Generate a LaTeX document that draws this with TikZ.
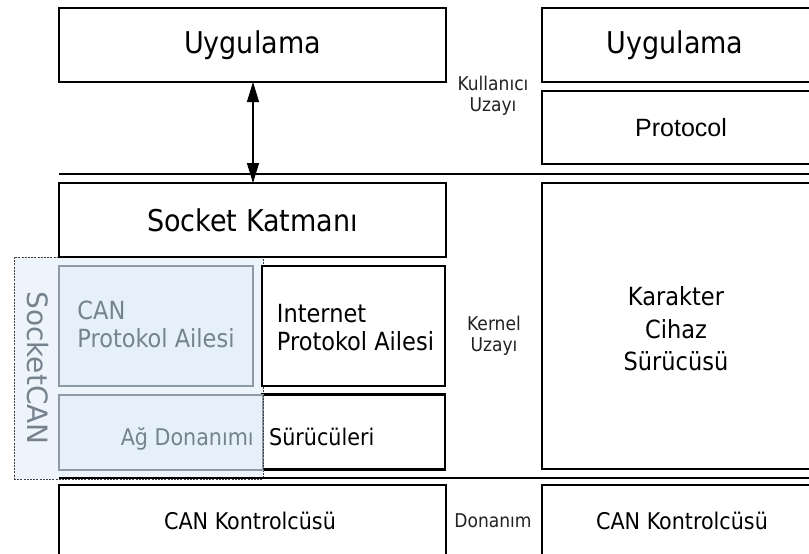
\documentclass[tikz,border=0pt]{standalone}
\usepackage{fontspec}
\setmainfont{DejaVu Sans Condensed}
\newfontfamily\protofont{Liberation Sans}
\newfontfamily\scanfont{DejaVu Sans}
\usetikzlibrary{arrows.meta}
\definecolor{scanfill}{HTML}{EEF4FB}
\definecolor{scanbox}{HTML}{E6F0FB}
\definecolor{scanedge}{HTML}{8E9AA6}
\definecolor{scantext}{HTML}{76828E}
\definecolor{lbl}{HTML}{222222}
\tikzset{
  layer/.style={draw=black, line width=2.2pt, fill=white},
  canlayer/.style={draw=scanedge, line width=2pt, fill=scanbox},
  sep/.style={draw=black, line width=1.2pt},
  zone/.style={font=\fontsize{19}{21.5}\selectfont, text=lbl, align=center, inner sep=0pt},
  big/.style={font=\fontsize{30}{36}\selectfont, inner sep=0pt},
  mid/.style={font=\fontsize{23}{28}\selectfont, inner sep=0pt},
  fam/.style={font=\fontsize{25}{28}\selectfont, inner sep=0pt, align=left},
  box/.style={inner sep=0pt, outer sep=0pt, anchor=north west}
}
\begin{document}
\begin{tikzpicture}[x=1pt,y=-1pt]
\useasboundingbox[fill=white] (0,0) rectangle (809,554);

% SocketCAN frame
\node[box, draw=black!75, dash pattern=on 2pt off 1.2pt, line width=0.9pt, fill=scanfill,
      minimum width=249pt, minimum height=222pt] (scan) at (14,257) {};

% separators between user, kernel and hardware space
\coordinate (s1l) at (59,174);  \coordinate (s1r) at (812,174);
\coordinate (s2l) at (59,478);  \coordinate (s2r) at (812,478);
\draw[sep] (s1l) -- (s1r);
\draw[sep] (s2l) -- (s2r);

% left stack
\node[box, layer, minimum width=387pt, minimum height=74pt] (app) at (59,8) {};
\node[big] at (app.center) {Uygulama};
\node[box, layer, minimum width=387pt, minimum height=74pt] (sock) at (59,183) {};
\node[big] at (sock.center) {Socket Katmanı};

\node[box, canlayer, minimum width=194pt, minimum height=120pt] (canpf) at (59,266) {};
\node[fam, text=scantext] at ([yshift=2pt]canpf.center) {CAN\\Protokol Ailesi};

\node[box, layer, minimum width=183pt, minimum height=120pt] (inet) at (262,266) {};
\node[fam] at ([xshift=2pt,yshift=-2pt]inet.center) {Internet\\Protokol Ailesi};

\node[box, layer, minimum width=183pt, minimum height=75pt] (drv) at (262,394.5) {};
\node[box, canlayer, minimum width=204pt, minimum height=75pt] (netdev) at (59,394.5) {};
\draw[black!75, dash pattern=on 2pt off 1.2pt, line width=0.9pt] (netdev.north east) -- (netdev.south east);
\node[mid, text=scantext, anchor=base east] (agd) at (254,445) {Ağ Donanımı};
\node[mid, anchor=base west] (surucu) at (269,445) {Sürücüleri};

\node[font=\scanfont\fontsize{28}{30}\selectfont, text=scantext, rotate=-90, inner sep=0pt] (scanlbl) at (38,368) {SocketCAN};

\node[box, layer, minimum width=387pt, minimum height=80pt] (ctl1) at (59,485) {};
\node[font=\fontsize{23}{28}\selectfont, inner sep=0pt] at (250,521) {CAN Kontrolcüsü};

% right stack
\node[box, layer, minimum width=272pt, minimum height=74pt] (app2) at (542,8) {};
\node[big] at ([xshift=-3pt]app2.center) {Uygulama};
\node[box, layer, minimum width=272pt, minimum height=73pt] (proto) at (542,91) {};
\node[font=\protofont\fontsize{25}{28}\selectfont, inner sep=0pt] at ([xshift=3pt]proto.center) {Protocol};
\node[box, layer, minimum width=272pt, minimum height=286pt] (chr) at (542,183) {};
\node[font=\fontsize{25}{32.5}\selectfont, align=center, inner sep=0pt] at ([xshift=-2pt,yshift=-3pt]chr.center) {Karakter\\Cihaz\\Sürücüsü};
\node[box, layer, minimum width=272pt, minimum height=80pt] (ctl2) at (542,485) {};
\node[font=\fontsize{23}{28}\selectfont, inner sep=0pt] at (682,521) {CAN Kontrolcüsü};

% space labels
\node[zone] (ku) at (493,96) {Kullanıcı\\Uzayı};
\node[zone] (kr) at (494,336) {Kernel\\Uzayı};
\node[zone] (dn) at (493,521) {Donanım};

% user/kernel link
\coordinate (ax) at (253,0);
\draw[line width=1.2pt, {Triangle[length=20pt,width=12pt]}-{Triangle[length=20pt,width=12pt]}]
  (app.south -| ax) -- (sock.north -| ax);
\end{tikzpicture}
\end{document}
